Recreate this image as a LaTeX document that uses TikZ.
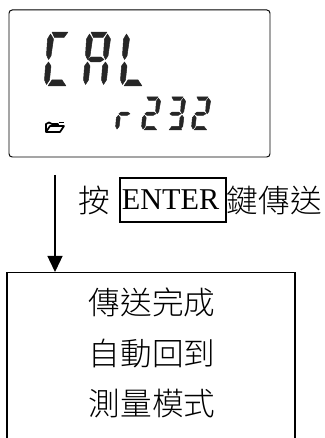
\documentclass[tikz,border=0pt]{standalone}
\usepackage{fontspec}
\setmainfont{Liberation Serif}
\newfontfamily\cjk{Noto Sans CJK TC Light}
\usetikzlibrary{arrows.meta}
\tikzset{
  lcdseg/.style={fill=black!85,draw=black!85,line width=.35pt,line join=round},
  panel/.style={draw,line width=.7pt},
  cjklabel/.style={inner sep=0pt,font=\fontsize{22.5pt}{34pt}\selectfont\cjk},
}
\begin{document}
\begin{tikzpicture}
\useasboundingbox (0, 0) rectangle (8.125, 10.95);
\clip (0, 0) rectangle (8.125, 10.95);

\newcommand\segA{\filldraw [lcdseg] (7, 54) -- (23, 54) -- (19, 48.5) -- (9.5, 48.5) -- cycle;}
\newcommand\segB{\filldraw [lcdseg] (23.5, 52) -- (26.5, 47) -- (24, 30) -- (21.5, 26.5) -- (19.5, 31) -- (20.5, 47) -- cycle;}
\newcommand\segC{\filldraw [lcdseg] (21.5, 24) -- (24, 20) -- (22.5, 6) -- (19.5, 1.5) -- (17.5, 6) -- (18.5, 20) -- cycle;}
\newcommand\segD{\filldraw [lcdseg] (3, 0) -- (21, 0) -- (17, 6) -- (7, 6) -- cycle;}
\newcommand\segE{\filldraw [lcdseg] (3.5, 24) -- (6, 20) -- (4.5, 6) -- (1.5, 1.5) -- (-.5, 6) -- (.5, 20) -- cycle;}
\newcommand\segF{\filldraw [lcdseg] (5.5, 52) -- (8.5, 47) -- (6, 30) -- (3.5, 26.5) -- (1.5, 31) -- (2.5, 47) -- cycle;}
\newcommand\segG{\filldraw [lcdseg] (7, 29) -- (17, 29) -- (20, 26.5) -- (16, 24) -- (7, 24) -- (4, 26.5) -- cycle;}
\newcommand\bigdigit[2]{\begin{scope}[shift={(#1, 8.8)},scale=.025]#2\end{scope}}
\newcommand\smalldigit[2]{\begin{scope}[shift={(#1, 7.7)},xscale=.0175,yscale=.0153]#2\end{scope}}

\node (display) at (3.4875, 8.8625) [panel,rounded corners=.08cm,minimum width=6.525cm,minimum height=3.675cm] {};
\bigdigit{1.125}{\segA\segD\segE\segF}
\bigdigit{2.1}{\segA\segB\segC\segE\segF\segG}
\bigdigit{3.025}{\segD\segE\segF}
\smalldigit{2.9}{\segE\segG}
\smalldigit{3.55}{\segA\segB\segD\segE\segG}
\smalldigit{4.175}{\segA\segB\segC\segD\segG}
\smalldigit{4.8}{\segA\segB\segD\segE\segG}

% folder
\begin{scope}[shift={(1.125, 7.625)},scale=.025,line width=1.2pt,line join=round]
\draw (1, 1) -- (1, 9) -- (4, 10.5) -- (7, 9) -- (13, 9) -- (13, 7);
\draw (1, 1) -- (5, 7) -- (19, 7) -- (15, 1) -- cycle;
\draw (14, 10.5) -- (19, 10.5);
\end{scope}

\coordinate (arrowtop) at (1.375, 6.575);
\node (press) at (2.35, 5.95) [cjklabel] {按};
\node (enterkey) at (4.325, 5.95) [draw,line width=.9pt,minimum width=2.65cm,minimum height=1.1cm,inner sep=0pt,font=\fontsize{21.5pt}{24pt}\selectfont] {\hspace*{-.12cm}ENTER};
\node (send) at (6.86, 5.95) [cjklabel] {鍵傳送};

\node (result) at (3.775, 4.15) [panel,anchor=north,line width=.9pt,minimum width=7.2cm,minimum height=4.5cm] {};
\node (resulttext) at (3.8, 2.125) [cjklabel,align=center] {傳送完成\\[2pt]自動回到\\[2pt]測量模式};
\draw [line width=1pt,-{Triangle[width=.375cm,length=.4cm]}] (arrowtop) -- (arrowtop |- result.north);
\end{tikzpicture}
\end{document}
